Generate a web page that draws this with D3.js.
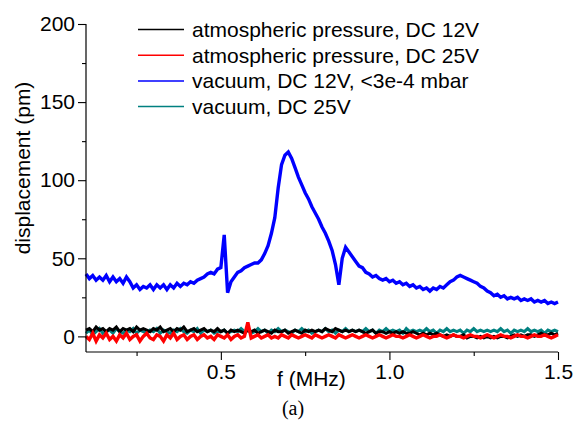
<!DOCTYPE html>
<html>
<head>
<meta charset="utf-8">
<script src="https://cdn.jsdelivr.net/npm/d3@7"></script>
<style>
	body { margin: 0; background: #fff; }
	text { font-family: "Liberation Sans", Arial, sans-serif; fill: #000; }
</style>
</head>
<body>
<div id="chart-container"></div>
<script>
// spectra sampled on a 0.01 MHz grid starting at 0.10 MHz
var f_start = 0.10;
var f_step = 0.01;

var black_12v = [
	4,5,3,6,4,5,3,5,4,6,3,5,4,5,3,6,4,5,4,3,5,4,6,3,4,5,3,5,4,6,3,4,5,3,4,5,3,4,3,5,
	3,4,2,4,3,4,3,2,4,3,4,2,3,4,3,2,4,3,3,4,2,3,4,3,2,4,3,4,3,4,3,5,4,3,5,4,3,4,3,4,
	3,4,3,2,3,4,2,3,3,2,3,2,3,2,3,2,2,3,2,1,2,1,2,1,2,1,0,1,0,1,0,0,1,-1,0,0,-1,0,-1,0,
	-1,0,-1,0,0,-1,0,1,0,1,0,1,1,0,1,2,1,1,2,1,2
];
var red_25v = [
	0,-2,2,-3,1,-1,2,-2,0,-3,1,-1,2,-2,0,1,-3,0,2,-1,-2,1,0,-3,1,-1,2,-2,0,1,-2,0,1,-2,0,1,-1,0,-2,1,
	0,-1,1,-2,0,1,-1,0,9,-1,0,1,-1,0,1,-1,0,-1,1,0,-1,1,0,-1,0,1,0,-1,1,0,-1,0,1,0,-1,1,0,-1,0,1,
	0,-1,0,1,0,-1,0,1,0,-1,0,1,0,0,-1,0,1,0,-1,0,1,0,-1,0,0,1,0,-1,0,1,0,0,-1,0,1,0,0,-1,0,1,
	0,-1,0,1,0,0,-1,0,1,0,0,-1,0,1,0,0,1,0,-1,0,1
];
var blue_vac_12v = [
	40,37,39,36,38,36,39,35,38,35,37,34,38,35,31,33,30,32,31,33,30,33,31,33,30,33,31,34,32,34,
	33,35,34,36,37,38,40,41,40,43,44,65,28,35,38,41,42,44,45,46,47,47,49,53,58,66,76,95,110,116,
	118,114,108,102,97,92,88,83,79,75,70,66,61,55,46,33,50,57,54,51,48,45,44,41,40,38,39,37,36,37,
	35,36,34,35,33,34,32,33,31,32,30,31,29,31,30,32,31,33,35,36,38,39,38,37,36,35,34,32,31,29,
	28,26,27,25,26,24,25,24,25,23,24,23,24,22,23,22,23,21,22,21,22
];
var teal_vac_25v = [
	2,4,1,3,5,2,3,4,2,5,3,2,4,3,5,2,4,3,2,4,3,5,2,4,3,2,4,3,5,3,2,4,3,5,2,4,3,4,2,3,
	3,4,2,3,4,3,5,3,4,2,3,5,3,4,2,4,3,5,3,4,3,2,4,3,5,3,4,2,3,4,3,5,3,4,2,4,3,5,3,4,
	3,4,3,5,3,4,2,4,3,5,3,4,3,4,2,5,3,4,3,4,3,5,3,4,2,4,3,5,3,4,3,4,2,4,3,5,3,4,3,4,
	3,4,3,5,3,4,2,4,3,4,3,5,3,4,3,4,2,4,3,4,3
];

var series_names = [
	"atmospheric pressure, DC 12V",
	"atmospheric pressure, DC 25V",
	"vacuum, DC 12V, <3e-4 mbar",
	"vacuum, DC 25V"
];
var series_colors = ["#000000", "#ff0000", "#0000ff", "#008080"];
var series_values = [black_12v, red_25v, blue_vac_12v, teal_vac_25v];

var x_major = [0.5, 1.0, 1.5];
var x_minor = [0.25, 0.75, 1.25];
var y_major = [0, 50, 100, 150, 200];
var y_minor = [25, 75, 125, 175];

var svg_width = 584;
var svg_height = 425;
var plot = {left: 86, right: 558, top: 24, bottom: 352};

var svg = d3.select("#chart-container")
	.append("svg")
	.attr("width", svg_width)
	.attr("height", svg_height);

var x = d3.scaleLinear().domain([0.1, 1.5]).range([plot.left, plot.right]);
var y = d3.scaleLinear().domain([-10, 200]).range([plot.bottom, plot.top]);

var line = d3.line()
	.x(function(d, i) { return x(f_start + i * f_step); })
	.y(function(d) { return y(d); });

// draw order: teal under black, red over black, blue on its own
// thick strokes stand in for the noise band of the measured traces
var draw_order = [3, 0, 1, 2];
var widths = [3, 3.4, 3.4, 3];
svg.append("g")
	.selectAll("path")
	.data(draw_order)
	.enter()
	.append("path")
	.attr("d", function(k) { return line(series_values[k]); })
	.attr("fill", "none")
	.attr("stroke", function(k) { return series_colors[k]; })
	.attr("stroke-width", function(k) { return widths[k]; })
	.attr("stroke-linejoin", "miter");

// axes (ticks only, the axis lines are drawn separately)
function ticks_only(g) {
	g.select(".domain").remove();
	g.selectAll(".tick line").attr("stroke", "#000").attr("stroke-width", 1.1);
	g.selectAll(".tick text")
		.style("font-family", "'Liberation Sans', Arial, sans-serif")
		.style("font-size", "21px")
		.attr("fill", "#000");
}

svg.append("g")
	.attr("transform", "translate(0," + plot.bottom + ")")
	.call(d3.axisBottom(x).tickValues(x_major).tickFormat(d3.format(".1f")).tickSize(8).tickPadding(4))
	.call(ticks_only);
svg.append("g")
	.attr("transform", "translate(0," + plot.bottom + ")")
	.call(d3.axisBottom(x).tickValues(x_minor).tickFormat("").tickSize(4))
	.call(ticks_only);

svg.append("g")
	.attr("transform", "translate(" + plot.left + ",0)")
	.call(d3.axisLeft(y).tickValues(y_major).tickSize(8).tickPadding(3))
	.call(ticks_only);
svg.append("g")
	.attr("transform", "translate(" + plot.left + ",0)")
	.call(d3.axisLeft(y).tickValues(y_minor).tickFormat("").tickSize(4))
	.call(ticks_only);

svg.append("line")
	.attr("x1", plot.left).attr("x2", plot.right).attr("y1", plot.bottom).attr("y2", plot.bottom)
	.attr("stroke", "#000").attr("stroke-width", 1.2);
svg.append("line")
	.attr("x1", plot.left).attr("x2", plot.left).attr("y1", plot.top).attr("y2", plot.bottom)
	.attr("stroke", "#000").attr("stroke-width", 1.2);

// axis titles
svg.append("text")
	.attr("x", 277)
	.attr("y", 386)
	.style("font-size", "21px")
	.text("f (MHz)");

svg.append("text")
	.attr("transform", "translate(30,168) rotate(-90)")
	.attr("text-anchor", "middle")
	.style("font-size", "21px")
	.text("displacement (pm)");

svg.append("text")
	.attr("x", 293)
	.attr("y", 415)
	.attr("text-anchor", "middle")
	.style("font-family", "'Liberation Serif', 'Times New Roman', serif")
	.style("font-size", "20px")
	.text("(a)");

// legend
var legend = svg.append("g")
	.selectAll("g")
	.data(series_names)
	.enter()
	.append("g")
	.attr("transform", function(d, i) { return "translate(138," + (29.5 + i * 25.7) + ")"; });

legend.append("line")
	.attr("x1", 0).attr("x2", 46)
	.attr("stroke", function(d, i) { return series_colors[i]; })
	.attr("stroke-width", 1.5);

legend.append("text")
	.attr("x", 54)
	.attr("y", 7.5)
	.style("font-size", "21px")
	.text(function(d) { return d; });
</script>
</body>
</html>
